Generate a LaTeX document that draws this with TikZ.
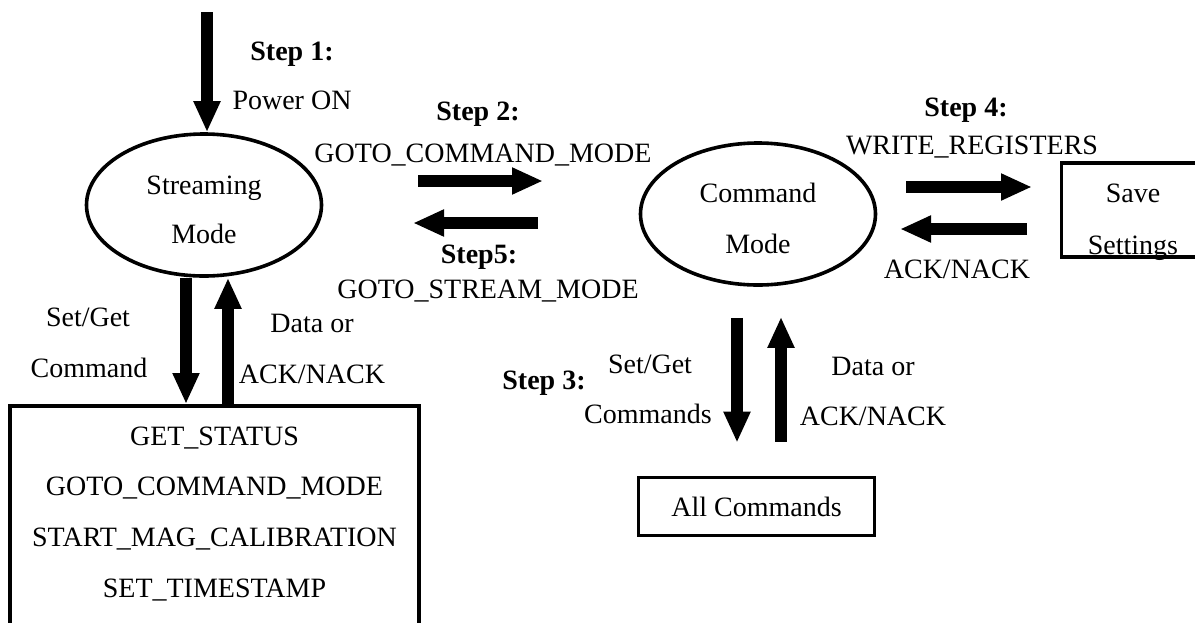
\documentclass[tikz,border=0pt]{standalone}
\usepackage{fontspec}
\setmainfont{Liberation Serif}
\usetikzlibrary{arrows.meta,shapes.geometric,positioning}

\tikzset{
    every node/.style = {font=\fontsize{14}{25}\selectfont, align=center},
    mode/.style       = {ellipse, draw, line width=1.8pt, minimum width=117.5pt,
                         minimum height=71pt, inner sep=0pt, text depth=0pt},
    box/.style        = {rectangle, draw, line width=1.8pt},
    flow/.style       = {draw, line width=6.25pt, -{Triangle[width=12.5pt,length=15.5pt]}},
    steplbl/.style    = {anchor=base, font=\fontsize{14}{25}\selectfont\bfseries},
    txt/.style        = {anchor=base},
}

\begin{document}
\begin{tikzpicture}[x=0.5pt, y=-0.5pt]
    \useasboundingbox (0,0) rectangle (1195,622);

    % states and command boxes
    \node [mode, text height=38pt, font=\fontsize{14}{24.5}\selectfont]
                                                (stream)  at (204,205)   {Streaming\\Mode};
    \node [mode, text height=39pt, font=\fontsize{14}{25.5}\selectfont]
                                                (cmd)     at (758,214)   {Command\\Mode};
    \node [box, anchor=north, minimum width=204.5pt, inner ysep=0pt,
           text height=95.6pt, text depth=20pt,
           font=\fontsize{14}{25.33}\selectfont] (getlist) at (214.5,404)
          {GET\_STATUS\\GOTO\_COMMAND\_MODE\\START\_MAG\_CALIBRATION\\SET\_TIMESTAMP};
    \node [box, minimum width=118pt, minimum height=29pt] (allcmd) at (756.5,506.5) {All Commands};
    \node [box, minimum width=71.5pt, inner ysep=0pt,
           text height=45.5pt, text depth=1.5pt,
           font=\fontsize{14}{26}\selectfont]   (save)    at (1133,210)  {Save\\Settings};

    % labels
    \node [steplbl] (s1)      at (292,60)  {Step 1:};
    \node [txt]     (pwrlbl)  at (292,109) {Power ON};
    \node [steplbl] (s2)      at (478,120) {Step 2:};
    \node [txt]     (gotocmd) at (483,162) {GOTO\_COMMAND\_MODE};
    \node [steplbl] (s5)      at (479,263) {Step5:};
    \node [txt]     (gotostr) at (488,298) {GOTO\_STREAM\_MODE};
    \node [steplbl] (s4)      at (966,116) {Step 4:};
    \node [txt]     (wreg)    at (972,154) {WRITE\_REGISTERS};
    \node [txt]     (ack4)    at (957,278) {ACK/NACK};
    \node [txt]     (setget1) at (88,326)  {Set/Get};
    \node [txt]     (cmd1)    at (89,377)  {Command};
    \node [txt]     (data1)   at (312,332) {Data or};
    \node [txt]     (ack1)    at (312,383) {ACK/NACK};
    \node [steplbl] (s3)      at (544,389) {Step 3:};
    \node [txt]     (setget3) at (650,373) {Set/Get};
    \node [txt]     (cmds3)   at (648,423) {Commands};
    \node [txt]     (data3)   at (873,375) {Data or};
    \node [txt]     (ack3)    at (873,425) {ACK/NACK};

    % free arrow ends
    \coordinate (pwr)   at (207,12);
    \coordinate (toC1)  at (418,181);
    \coordinate (toC2)  at (543,181);
    \coordinate (toS1)  at (538,223);
    \coordinate (toS2)  at (413,223);
    \coordinate (wr1)   at (906,187);
    \coordinate (wr2)   at (1032,187);
    \coordinate (ak1)   at (1027,229);
    \coordinate (ak2)   at (900,229);
    \coordinate (sdown) at ([xshift=-9pt]stream.south);
    \coordinate (sup)   at ([xshift=12pt]stream.south);
    \coordinate [below=15.5pt of cmd.south, xshift=-10.5pt] (cdown);
    \coordinate [below=15pt of cmd.south, xshift=11.5pt]    (cup);
    \coordinate [above=16.5pt of allcmd.north] (ctip);
    \coordinate [above=17pt of allcmd.north]   (cbot);

    \path (pwr)               edge[flow] (pwr |- stream.north);
    \path (toC1)              edge[flow] (toC2);
    \path (toS1)              edge[flow] (toS2);
    \path (wr1)               edge[flow] (wr2);
    \path (ak1)               edge[flow] (ak2);
    \path (sdown)             edge[flow] (sdown |- getlist.north);
    \path (sup |- getlist.north) edge[flow] (sup);
    \path (cdown)             edge[flow] (cdown |- ctip);
    \path (cup |- cbot)       edge[flow] (cup);
\end{tikzpicture}
\end{document}
